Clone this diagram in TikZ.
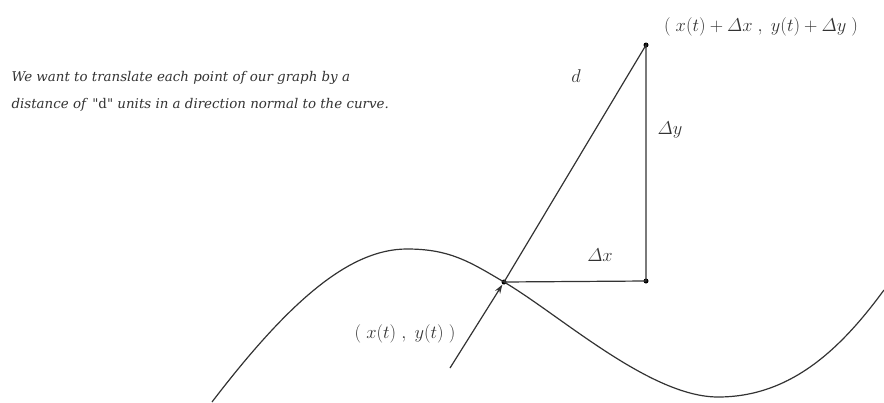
\RequirePackage{fix-cm}
\documentclass[tikz,border=0pt]{standalone}
\usepackage{amsmath}
\usepackage[no-math]{fontspec}
\setmainfont{DejaVu Serif}
\usetikzlibrary{arrows.meta}

\begin{document}
\begin{tikzpicture}[x=1pt,y=-1pt,line width=1.2pt,color=black!80,
  dot/.style={circle,fill=black,inner sep=0pt,minimum size=5pt},
  lbl/.style={font=\fontsize{18.5}{22}\selectfont,inner sep=0pt},
  note/.style={font=\itshape\fontsize{13.4}{27}\selectfont,align=left,anchor=west,inner sep=0pt}]
  \useasboundingbox (0,0) rectangle (884,402);
  % points (pixel grid, y down)
  \node[dot] (P) at (504,282) {};
  \node[dot] (Q) at (646,45) {};
  \node[dot] (R) at (646,281) {};
  \coordinate (A) at (450,368);
  % the curve
  \draw (212,402) .. controls (290,300) and (350,249) .. (407,249)
    .. controls (450,249) and (470,262) .. (P.center)
    .. controls (560,315) and (650,397) .. (718,397)
    .. controls (790,397) and (840,350) .. (884,290);
  % normal offset triangle
  \draw (P.center) -- (Q.center) -- (R.center) -- (P.center);
  \draw[-{Stealth[length=9pt,width=6pt]}] (A) -- (P);
  % labels
  \node[note] (txt) at (11,91) {We want to translate each point of our graph by a\\
    distance of \textup{\textquotedbl d\textquotedbl} units in a direction normal to the curve.};
  \node[lbl] (lQ) at (761,27) {$(\;x(t)+\varDelta x\;,\;y(t)+\varDelta y\;)$};
  \node[lbl] (lP) at (405,334) {$(\;x(t)\;,\;y(t)\;)$};
  \node[lbl] (ld) at (576,76) {$d$};
  \node[lbl] (ly) at (670,130) {$\varDelta y$};
  \node[lbl] (lx) at (600,255) {$\varDelta x$};
\end{tikzpicture}
\end{document}
